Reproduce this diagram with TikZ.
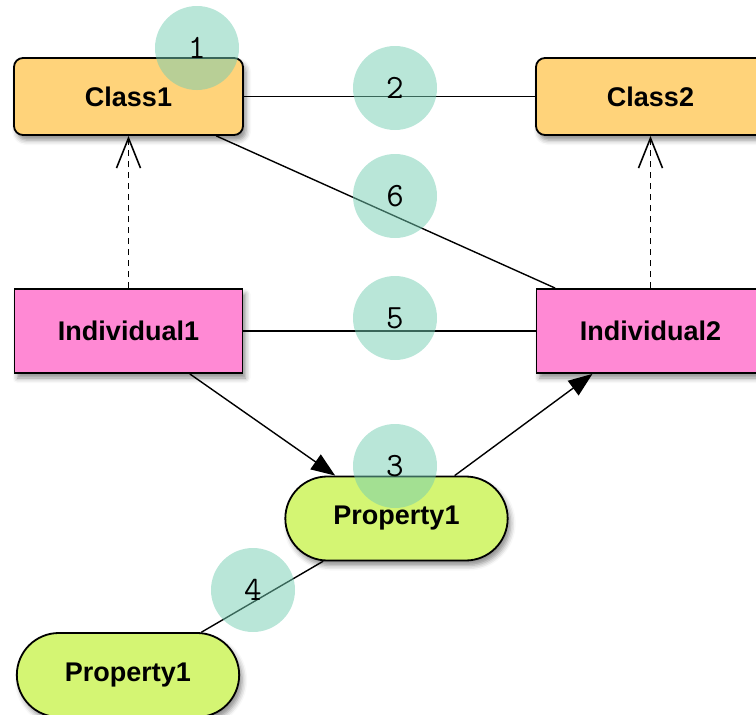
\documentclass[tikz,border=0pt]{standalone}
\usepackage{fontspec}
\setmainfont{Liberation Sans}
\usetikzlibrary{arrows.meta,shapes.misc,shadows.blur}

\definecolor{classfill}{RGB}{255,211,122}
\definecolor{indfill}{RGB}{255,137,212}
\definecolor{propfill}{RGB}{212,245,115}
\definecolor{discfill}{RGB}{115,205,178}

\tikzset{
  boxshadow/.style={blur shadow={shadow xshift=3pt,shadow yshift=-5pt,shadow blur radius=5pt,shadow opacity=45}},
  boxtext/.style={font=\fontsize{27}{32}\selectfont\bfseries},
  classbox/.style={draw,line width=1.8pt,fill=classfill,rounded corners=9pt,
    minimum width=229pt,minimum height=77pt,boxshadow,boxtext},
  indbox/.style={draw,line width=1.8pt,fill=indfill,
    minimum width=228pt,minimum height=84pt,boxshadow,boxtext},
  propbox/.style={draw,line width=1.8pt,fill=propfill,rounded rectangle,
    minimum width=229pt,minimum height=84pt,boxshadow,boxtext},
  link/.style={line width=1.4pt},
  subclass/.style={line width=1.4pt,dash pattern=on 6pt off 5pt,
    -{Straight Barb[length=30pt,width=24pt,line width=1.6pt]}},
  assert/.style={line width=1.4pt,-{Triangle[length=24pt,width=18pt]}},
  markdisc/.style={circle,fill=discfill,fill opacity=0.5,text opacity=1,
    minimum size=84pt,inner sep=0pt,font=\fontsize{34}{36}\ttfamily},
}

\begin{document}
\begin{tikzpicture}[x=1pt,y=-1pt]
  \useasboundingbox (0,0) rectangle (756,715);

  % ontology nodes
  \node[classbox] (c1) at (128.5,96.5) {Class1};
  \node[classbox] (c2) at (650.5,96.5) {Class2};
  \node[indbox]   (i1) at (128.5,331)  {Individual1};
  \node[indbox]   (i2) at (650.5,331)  {Individual2};
  \node[propbox]  (p1) at (396.5,518.5) {Property1};
  \node[propbox]  (p2) at (128,675)    {Property1};

  % relations
  \draw[link] (c1) -- (c2);
  \draw[link] (c1) -- (i2);
  \draw[link] (i1) -- (i2);
  \draw[subclass] (i1.north) -- (c1.south);
  \draw[subclass] (i2.north) -- (c2.south);
  \draw[assert] (i1) -- (p1);
  \draw[assert] (p1) -- (i2);
  \draw[link] (p1) -- (p2);

  % numbered markers
  \node[markdisc] (m1) at (197,48)  {1};
  \node[markdisc] (m2) at (395,88)  {2};
  \node[markdisc] (m6) at (395,196) {6};
  \node[markdisc] (m5) at (395,318) {5};
  \node[markdisc] (m3) at (395,466) {3};
  \node[markdisc] (m4) at (253,590) {4};
\end{tikzpicture}
\end{document}
